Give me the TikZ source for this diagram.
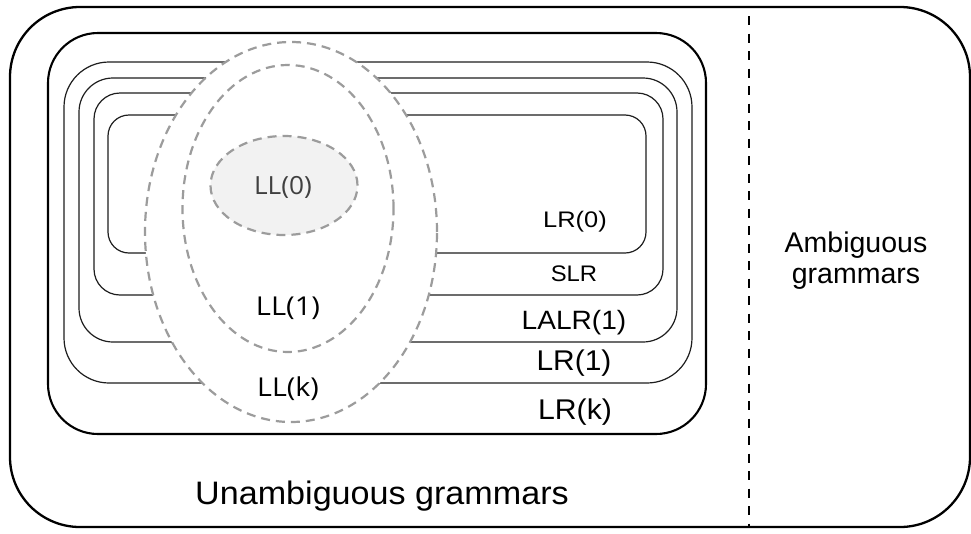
\documentclass[tikz,border=0pt]{standalone}
\usepackage{fontspec}
\setmainfont{Liberation Sans}
\newfontfamily\llfont{Open Sans}
\usetikzlibrary{shapes.geometric}
\newcommand{\sztxt}[3]{\scalebox{#2}[1]{\fontsize{#1}{#1}\selectfont #3}}
\definecolor{dashgray}{HTML}{9C9C9C}
\definecolor{fillgray}{HTML}{F2F2F2}
\definecolor{thinline}{HTML}{1E1E1E}
\begin{document}
\begin{tikzpicture}[x=1pt,y=-1pt,
  thickbox/.style={draw=black, line width=2.3pt},
  thinbox/.style={draw=thinline, line width=1.2pt},
  llset/.style={ellipse, draw=dashgray, line width=2.2pt, dash pattern=on 9pt off 6pt, fill=white, inner sep=0pt},
  divider/.style={draw=black, line width=2.8pt, dash pattern=on 9pt off 8.5pt},
  lbl/.style={inner sep=0pt, text=black}]
\useasboundingbox (0,0) rectangle (971,533);
\fill[white] (0,0) rectangle (971,533);
% outer box
\draw[thickbox, rounded corners=70pt] (10,7) rectangle (970,527);
\draw[divider] (749,16) -- (749,527);
% LR family
\draw[thickbox, line width=2.1pt, rounded corners=50pt] (48,33) rectangle (706,434);
\draw[thinbox, rounded corners=45pt] (64,62) rectangle (692,383);
\draw[thinbox, rounded corners=34pt] (79,78) rectangle (677,342);
\draw[thinbox, rounded corners=26pt] (94,93) rectangle (663,295);
\draw[thinbox, rounded corners=21pt] (108,115) rectangle (646,253);
% LL family
\node[llset, minimum width=292pt, minimum height=380pt] (llk) at (291,232) {};
\node[llset, minimum width=211pt, minimum height=287pt] (ll1) at (288,208.5) {};
\node[llset, fill=fillgray, minimum width=147pt, minimum height=99pt] (ll0) at (284,185.5) {};
% labels
\node[lbl] (tlr0) at (575,222) {\sztxt{22.5}{1.13}{LR(0)}};
\node[lbl] (tslr) at (574,274) {\sztxt{22.5}{1.06}{SLR}};
\node[lbl] (tlalr) at (574,323) {\sztxt{26.5}{1.06}{LALR(1)}};
\node[lbl] (tlr1) at (574,363) {\sztxt{28.5}{1.05}{LR(1)}};
\node[lbl] (tlrk) at (575,412) {\sztxt{28.5}{1.06}{LR(k)}};
\node[lbl, text=black!75] (tll0) at (283,187) {\llfont\sztxt{25}{1.05}{LL(0)}};
\node[lbl] (tll1) at (288,308) {\llfont\sztxt{26}{1.12}{LL(1)}};
\node[lbl] (tllk) at (288,389) {\llfont\sztxt{26}{1.1}{LL(k)}};
\node[lbl] (tunamb) at (382,496) {\sztxt{32.5}{1.05}{Unambiguous grammars}};
\node[lbl, align=center, font=\fontsize{28.5}{31}\selectfont] (tamb) at (856,261) {Ambiguous\\grammars};
\end{tikzpicture}
\end{document}
